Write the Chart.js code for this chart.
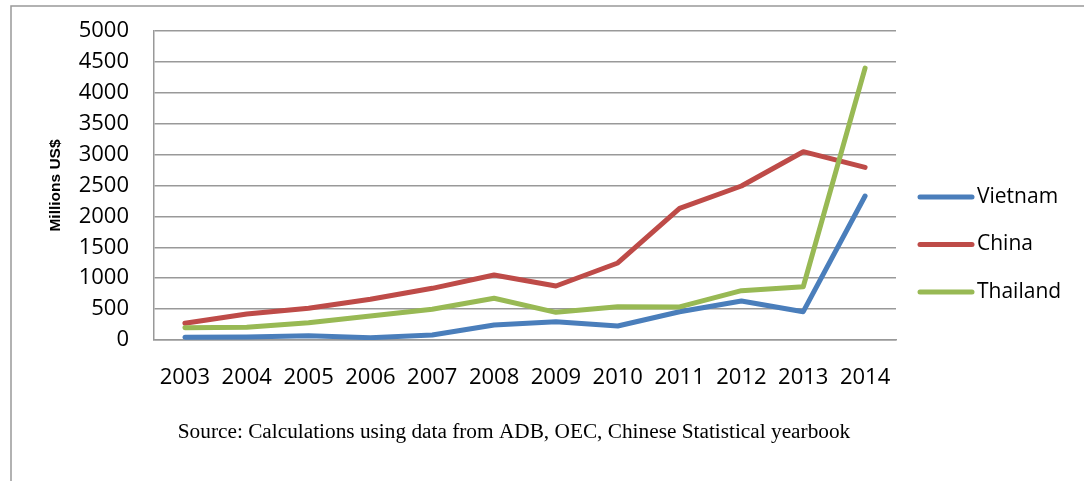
<!DOCTYPE html>
<html>
<head>
<meta charset="utf-8">
<script src="https://cdn.jsdelivr.net/npm/chart.js@4"></script>
<style>
  html, body { margin: 0; padding: 0; background: #fff; }
  #wrap { width: 1084px; height: 481px; }
</style>
</head>
<body>
<div id="wrap"><canvas id="c" width="1084" height="481"></canvas></div>
<script>
// Investment flows, millions US$
const years = ['2003','2004','2005','2006','2007','2008','2009','2010','2011','2012','2013','2014'];
const vietnam  = [45, 50, 70, 38, 81, 243, 296, 226, 458, 631, 458, 2330];
const china    = [270, 420, 513, 658, 836, 1052, 874, 1246, 2131, 2492, 3047, 2794];
const thailand = [200, 205, 280, 388, 497, 675, 448, 539, 535, 798, 862, 4400];
const seriesNames = ['Vietnam', 'China', 'Thailand'];
const seriesColors = ['#4a7ebb', '#be4b48', '#98b954'];
const yTicksMax = 5000;
const yTickStep = 500;
const sourceNote = 'Source: Calculations using data from ADB, OEC, Chinese Statistical yearbook';

const gridGray = '#999999';
const tickFont = { family: '"Open Sans", "Noto Sans", sans-serif', size: 22 };

// Plot box in canvas pixels
const plotBox = { left: 154, top: 31, right: 896, bottom: 340 };

// Frame, legend and source line drawn around the plot
const decorations = {
  id: 'decorations',
  afterDraw(chart) {
    const ctx = chart.ctx;
    ctx.save();
    // outer frame (left and top edges)
    ctx.strokeStyle = gridGray;
    ctx.lineWidth = 1.5;
    ctx.beginPath();
    ctx.moveTo(11, 481);
    ctx.lineTo(11, 6);
    ctx.lineTo(1084, 6);
    ctx.stroke();

    // legend
    chart.data.datasets.forEach((ds, i) => {
      const y = 197 + i * 47.5;
      ctx.strokeStyle = ds.borderColor;
      ctx.lineWidth = 5;
      ctx.lineCap = 'round';
      ctx.beginPath();
      ctx.moveTo(920, y);
      ctx.lineTo(972, y);
      ctx.stroke();
      ctx.fillStyle = '#000';
      ctx.font = '21px "Open Sans", "Noto Sans", sans-serif';
      ctx.textAlign = 'left';
      ctx.textBaseline = 'middle';
      ctx.fillText(ds.label, 977, y);
    });

    // source line
    ctx.fillStyle = '#000';
    ctx.font = '21.3px "Liberation Serif", "DejaVu Serif", serif';
    ctx.textAlign = 'center';
    ctx.textBaseline = 'middle';
    ctx.fillText(sourceNote, 514, 432);
    ctx.restore();
  }
};

const seriesData = [vietnam, china, thailand];

new Chart(document.getElementById('c'), {
  type: 'line',
  data: {
    labels: years,
    datasets: seriesData.map((vals, i) => ({
      label: seriesNames[i],
      data: vals,
      borderColor: seriesColors[i],
      backgroundColor: seriesColors[i],
      borderWidth: 5,
      pointRadius: 0,
      tension: 0,
      borderJoinStyle: 'round',
      borderCapStyle: 'round',
      order: seriesData.length - i
    }))
  },
  options: {
    responsive: false,
    animation: false,
    layout: { padding: { left: 0, top: plotBox.top, right: 1084 - plotBox.right, bottom: 0 } },
    plugins: {
      legend: { display: false },
      tooltip: { enabled: false }
    },
    scales: {
      x: {
        offset: true,
        grid: { display: false, drawTicks: false },
        border: { display: true, color: gridGray, width: 1.5 },
        ticks: { color: '#000', font: tickFont, padding: 25, maxRotation: 0, autoSkip: false },
        afterFit(scale) { scale.height = 481 - plotBox.bottom; scale.paddingLeft = 0; scale.paddingRight = 0; }
      },
      y: {
        min: 0,
        max: yTicksMax,
        grid: { color: gridGray, lineWidth: 1.5, drawTicks: false },
        border: { display: true, color: gridGray, width: 1.5 },
        ticks: {
          stepSize: yTickStep,
          color: '#000',
          font: tickFont,
          padding: 25,
          callback: (v) => String(v)
        },
        title: {
          display: true,
          text: 'Millions US$',
          color: '#000',
          font: { family: '"Liberation Sans", Arial, sans-serif', size: 15.5, weight: 'bold' },
          padding: { top: 46, bottom: 0 }
        },
        afterFit(scale) { scale.width = plotBox.left; scale.paddingTop = 0; scale.paddingBottom = 0; }
      }
    }
  },
  plugins: [decorations]
});
</script>
</body>
</html>
